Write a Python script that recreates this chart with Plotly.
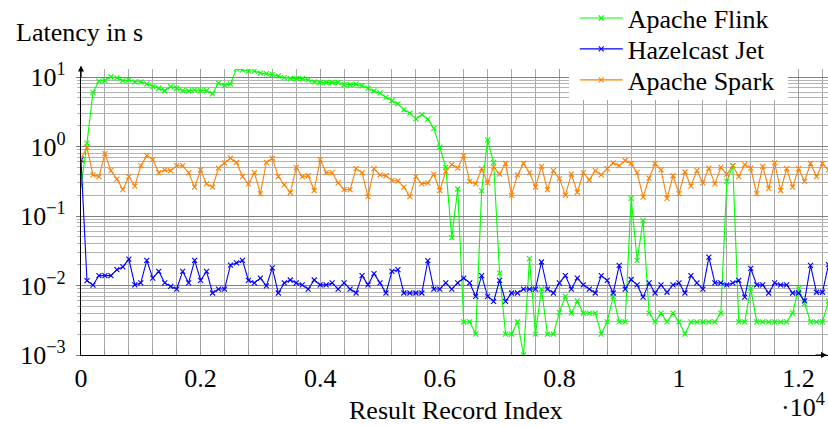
import plotly.graph_objects as go

# Result record index (every 100 records)
record_index = list(range(0, 12501, 100))

flink = [0.27, 1.12, 6.0, 8.75, 8.9, 10.1, 9.7, 8.9, 9.1, 8.55,
         8.55, 8.0, 7.3, 6.9, 6.35, 7.3, 6.9, 6.4, 6.3, 6.55,
         6.4, 6.4, 5.75, 8.2, 7.6, 8.0, 13.2, 12.7, 12.2, 12.2,
         11.4, 11.2, 10.9, 10.4, 9.8, 9.6, 9.5, 9.5, 9.1, 8.55,
         8.35, 8.35, 8.35, 8.35, 7.75, 7.75, 7.9, 7.5, 6.85, 6.3,
         5.9, 5.1, 4.56, 4.1, 3.39, 3.03, 2.51, 2.87, 2.48, 1.82,
         0.98, 0.50, 0.049, 0.245, 0.003, 0.003, 0.002, 0.23, 1.25, 0.59,
         0.0151, 0.002, 0.002, 0.003, 0.001, 0.0243, 0.002, 0.0089, 0.002, 0.002,
         0.0041, 0.007, 0.004, 0.006, 0.004, 0.004, 0.004, 0.002, 0.003, 0.007,
         0.003, 0.003, 0.18, 0.023, 0.0865, 0.004, 0.003, 0.004, 0.003, 0.004,
         0.003, 0.002, 0.003, 0.003, 0.003, 0.003, 0.003, 0.004, 0.315, 0.53,
         0.003, 0.003, 0.0091, 0.003, 0.003, 0.003, 0.003, 0.003, 0.003, 0.004,
         0.0091, 0.0055, 0.003, 0.003, 0.003, 0.006]

hazelcast = [0.645, 0.0118, 0.0101, 0.0139, 0.0139, 0.0139, 0.0169, 0.0185, 0.024, 0.0102,
             0.0109, 0.023, 0.0128, 0.016, 0.0109, 0.0097, 0.0089, 0.016, 0.0109, 0.023,
             0.0119, 0.016, 0.0078, 0.0089, 0.0089, 0.0197, 0.0211, 0.023, 0.0119, 0.0109,
             0.0128, 0.0099, 0.0179, 0.0078, 0.0109, 0.012, 0.0109, 0.0102, 0.0089, 0.012,
             0.0102, 0.0102, 0.0109, 0.0089, 0.0109, 0.0089, 0.0078, 0.0139, 0.0102, 0.0148,
             0.0109, 0.0078, 0.016, 0.0169, 0.0078, 0.0078, 0.0078, 0.0078, 0.0228, 0.0089,
             0.0089, 0.0109, 0.0089, 0.0109, 0.0128, 0.0109, 0.0070, 0.0139, 0.0070, 0.0059,
             0.0119, 0.0059, 0.0078, 0.0078, 0.0089, 0.0089, 0.0089, 0.0218, 0.0089, 0.0078,
             0.0109, 0.0139, 0.0089, 0.0128, 0.0102, 0.0089, 0.0078, 0.0139, 0.0119, 0.0078,
             0.0195, 0.0089, 0.0122, 0.0102, 0.0068, 0.0109, 0.0078, 0.0102, 0.008, 0.0102,
             0.0109, 0.0078, 0.0139, 0.0109, 0.0089, 0.0257, 0.0109, 0.0109, 0.0102, 0.0109,
             0.0119, 0.0068, 0.0176, 0.0102, 0.0102, 0.0078, 0.0109, 0.0102, 0.0102, 0.0078,
             0.0078, 0.006, 0.0195, 0.008, 0.008, 0.02]

spark = [0.675, 0.97, 0.39, 0.37, 0.79, 0.45, 0.34, 0.24, 0.37, 0.27,
         0.53, 0.74, 0.65, 0.42, 0.46, 0.45, 0.53, 0.53, 0.42, 0.26,
         0.46, 0.29, 0.26, 0.49, 0.58, 0.68, 0.59, 0.37, 0.29, 0.42,
         0.21, 0.59, 0.68, 0.37, 0.28, 0.218, 0.5, 0.37, 0.38, 0.233,
         0.65, 0.42, 0.42, 0.30, 0.24, 0.24, 0.48, 0.42, 0.19, 0.48,
         0.39, 0.38, 0.325, 0.32, 0.26, 0.19, 0.37, 0.29, 0.30, 0.40,
         0.233, 0.44, 0.55, 0.49, 0.74, 0.315, 0.29, 0.48, 0.30, 0.51,
         0.40, 0.57, 0.198, 0.39, 0.57, 0.42, 0.26, 0.52, 0.24, 0.45,
         0.345, 0.20, 0.40, 0.22, 0.42, 0.33, 0.45, 0.39, 0.48, 0.58,
         0.53, 0.63, 0.57, 0.42, 0.187, 0.35, 0.57, 0.46, 0.18, 0.38,
         0.21, 0.43, 0.27, 0.45, 0.30, 0.49, 0.29, 0.50, 0.40, 0.53,
         0.37, 0.55, 0.49, 0.21, 0.52, 0.25, 0.58, 0.233, 0.48, 0.26,
         0.48, 0.315, 0.57, 0.37, 0.57, 0.46]

series_names = ["Apache Flink", "Hazelcast Jet", "Apache Spark"]
series_colors = ["#00ff00", "#0000ff", "#ff8000"]
legend_ids = ["legend", "legend2", "legend3"]

x_tickvals = [0, 2000, 4000, 6000, 8000, 10000, 12000]
x_ticktext = ["0", "0.2", "0.4", "0.6", "0.8", "1", "1.2"]
y_tickvals = [1e-3, 1e-2, 1e-1, 1e0, 1e1]
y_ticktext = ["10<sup>−3</sup>", "10<sup>−2</sup>", "10<sup>−1</sup>", "10<sup>0</sup>", "10<sup>1</sup>"]
y_minor = [m * 10.0 ** e for e in range(-3, 2) for m in range(2, 10)]

FONT = "Liberation Serif"
FS = 26

fig = go.Figure()
for name, vals, col, lg in zip(series_names, [flink, hazelcast, spark], series_colors, legend_ids):
    fig.add_trace(go.Scatter(
        x=record_index, y=vals, name=name, mode="lines+markers", legend=lg,
        line=dict(color=col, width=1.1),
        marker=dict(symbol="x-thin", size=5, color=col, line=dict(color=col, width=1.1)),
    ))

legend_rows_y = [1.178, 1.070, 0.9615]
legend_common = dict(x=0.661, xanchor="left", yanchor="middle",
                     bgcolor="rgba(0,0,0,0)", borderwidth=0, itemwidth=43,
                     font=dict(size=FS, family=FONT, color="black"))

fig.update_layout(
    width=828, height=427,
    margin=dict(l=81, r=0, t=69, b=72, autoexpand=False),
    plot_bgcolor="white", paper_bgcolor="white",
    font=dict(family=FONT, size=FS, color="black"),
    showlegend=True,
    legend=dict(y=legend_rows_y[0], **legend_common),
    legend2=dict(y=legend_rows_y[1], **legend_common),
    legend3=dict(y=legend_rows_y[2], **legend_common),
    shapes=[dict(type="rect", xref="paper", yref="paper", x0=0.6533, x1=0.9465,
                 y0=0.8916, y1=1.0, fillcolor="white", line=dict(width=0),
                 layer="above")],
    xaxis=dict(range=[0, 12492], tickvals=x_tickvals, ticktext=x_ticktext,
               showgrid=True, gridcolor="#a0a0a0", gridwidth=1,
               showline=True, linecolor="black", linewidth=1.2,
               ticks="inside", ticklen=4, tickcolor="#909090",
               minor=dict(dtick=400, tick0=0, showgrid=True, gridcolor="#a8a8a8",
                          ticks="inside", ticklen=4, tickcolor="#909090"),
               zeroline=False, tickfont=dict(size=FS, family=FONT, color="black")),
    yaxis=dict(type="log", range=[-3, 1.116], tickvals=y_tickvals, ticktext=y_ticktext,
               showgrid=True, gridcolor="#808080", gridwidth=1,
               showline=True, linecolor="black", linewidth=1.2,
               ticks="outside", ticklen=4, tickcolor="#808080",
               ticklabelstandoff=5,
               minor=dict(tickvals=y_minor, showgrid=True, gridcolor="#b4b4b4",
                          ticks="outside", ticklen=3, tickcolor="#b4b4b4"),
               zeroline=False, tickfont=dict(size=FS, family=FONT, color="black")),
    annotations=[
        dict(text="Latency in s", xref="paper", yref="paper", x=-0.0897, y=1.126,
             xanchor="left", yanchor="middle", showarrow=False,
             font=dict(size=FS, family=FONT, color="black")),
        dict(text="Result Record Index", xref="paper", yref="paper", x=0.502, y=-0.195,
             xanchor="center", yanchor="middle", showarrow=False,
             font=dict(size=FS, family=FONT, color="black")),
        dict(text="·10<sup>4</sup>", xref="paper", yref="paper", x=0.999, y=-0.178,
             xanchor="right", yanchor="middle", showarrow=False,
             font=dict(size=FS, family=FONT, color="black")),
        dict(text="", xref="paper", yref="paper", x=1.0, y=0, ax=-14, ay=0,
             showarrow=True, arrowhead=2, arrowsize=1, arrowwidth=1.2, arrowcolor="black"),
        dict(text="", xref="paper", yref="paper", x=0, y=1.012, ax=0, ay=14,
             showarrow=True, arrowhead=2, arrowsize=1, arrowwidth=1.2, arrowcolor="black"),
    ],
)

fig.write_html("out.html")
